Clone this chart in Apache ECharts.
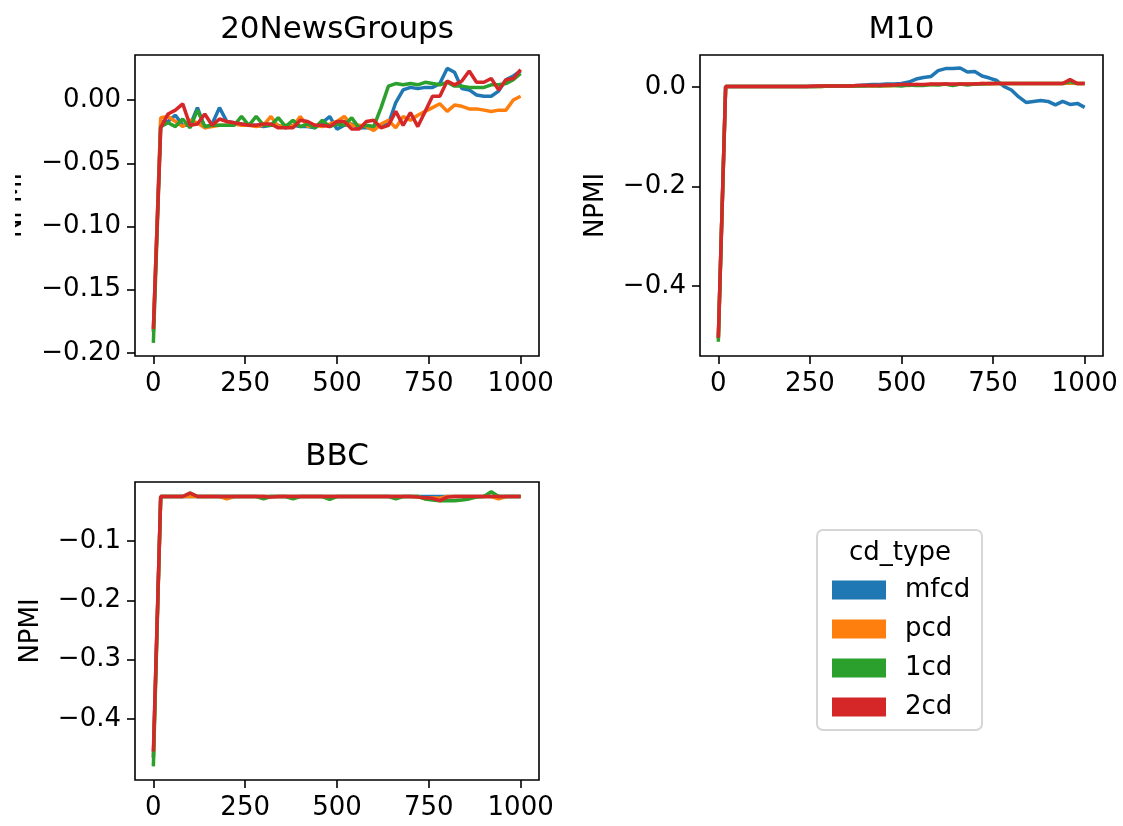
<!DOCTYPE html>
<html>
<head>
<meta charset="utf-8">
<title>NPMI by cd_type</title>
<script src="https://cdn.jsdelivr.net/npm/echarts@6/dist/echarts.min.js"></script>
<style>
  html, body { margin: 0; padding: 0; background: #fff; }
  #frame { position: absolute; left: 15px; top: 0; width: 1108px; height: 826px; overflow: hidden; background: #fff; }
  #chart { position: absolute; left: -15px; top: 0; width: 1123px; height: 826px; }
</style>
</head>
<body>
<div id="frame"><div id="chart"></div></div>
<script>
// Iteration steps shared by every panel
const steps = [0, 20, 40, 60, 80, 100, 120, 140, 160, 180, 200, 220, 240, 260, 280, 300, 320, 340, 360, 380,
  400, 420, 440, 460, 480, 500, 520, 540, 560, 580, 600, 620, 640, 660, 680, 700, 720, 740, 760, 780,
  800, 820, 840, 860, 880, 900, 920, 940, 960, 980, 1000];

const cdTypes = ['mfcd', 'pcd', '1cd', '2cd'];
const cdColors = ['#1f77b4', '#ff7f0e', '#2ca02c', '#d62728'];

const xTicks = [0, 250, 500, 750, 1000];
const newsTicks = [-0.20, -0.15, -0.10, -0.05, 0.00];
const m10Ticks = [-0.4, -0.2, 0.0];
const bbcTicks = [-0.4, -0.3, -0.2, -0.1];

// 20NewsGroups
const news_mfcd = [-0.183, -0.017, -0.017, -0.012, -0.020, -0.020, -0.006, -0.022, -0.019, -0.006,
  -0.017, -0.018, -0.019, -0.020, -0.020, -0.021, -0.020, -0.020, -0.022, -0.020,
  -0.021, -0.021, -0.022, -0.018, -0.013, -0.023, -0.020, -0.019, -0.022, -0.022,
  -0.022, -0.020, -0.019, -0.002, 0.008, 0.010, 0.009, 0.010, 0.010, 0.013,
  0.025, 0.022, 0.009, 0.008, 0.004, 0.003, 0.003, 0.007, 0.016, 0.019, 0.023];
const news_pcd = [-0.183, -0.014, -0.013, -0.017, -0.021, -0.016, -0.018, -0.022, -0.021, -0.020,
  -0.020, -0.019, -0.020, -0.020, -0.021, -0.020, -0.013, -0.021, -0.020, -0.021,
  -0.013, -0.021, -0.020, -0.021, -0.019, -0.017, -0.013, -0.020, -0.020, -0.021,
  -0.024, -0.019, -0.016, -0.022, -0.013, -0.016, -0.012, -0.009, -0.006, -0.003,
  -0.009, -0.004, -0.005, -0.007, -0.007, -0.008, -0.009, -0.008, -0.008, 0.000, 0.003];
const news_1cd = [-0.192, -0.021, -0.018, -0.021, -0.015, -0.022, -0.008, -0.021, -0.020, -0.020,
  -0.020, -0.020, -0.013, -0.020, -0.013, -0.020, -0.020, -0.014, -0.021, -0.016,
  -0.021, -0.019, -0.022, -0.016, -0.021, -0.019, -0.020, -0.014, -0.022, -0.020,
  -0.021, -0.006, 0.011, 0.013, 0.012, 0.013, 0.012, 0.014, 0.013, 0.012,
  0.014, 0.011, 0.011, 0.010, 0.010, 0.010, 0.012, 0.012, 0.013, 0.016, 0.021];
const news_2cd = [-0.181, -0.022, -0.011, -0.008, -0.003, -0.020, -0.019, -0.011, -0.020, -0.015,
  -0.017, -0.018, -0.019, -0.020, -0.020, -0.019, -0.019, -0.022, -0.022, -0.022,
  -0.016, -0.017, -0.020, -0.020, -0.021, -0.017, -0.017, -0.023, -0.023, -0.017,
  -0.016, -0.022, -0.020, -0.009, -0.020, -0.010, -0.021, -0.009, 0.003, 0.003,
  0.015, 0.012, 0.015, 0.023, 0.014, 0.014, 0.017, 0.008, 0.016, 0.017, 0.024];

// M10
const m10_mfcd = [-0.505, 0.001, 0.001, 0.001, 0.001, 0.001, 0.001, 0.001, 0.001, 0.001,
  0.001, 0.001, 0.001, 0.001, 0.002, 0.002, 0.002, 0.002, 0.002, 0.003,
  0.004, 0.005, 0.005, 0.006, 0.006, 0.007, 0.010, 0.016, 0.019, 0.021,
  0.033, 0.037, 0.037, 0.038, 0.030, 0.031, 0.022, 0.018, 0.013, 0.001,
  -0.006, -0.020, -0.031, -0.029, -0.027, -0.029, -0.036, -0.029, -0.035, -0.033, -0.041];
const m10_pcd = [-0.505, 0.001, 0.001, 0.001, 0.001, 0.001, 0.001, 0.001, 0.001, 0.001,
  0.001, 0.001, 0.001, 0.001, 0.001, 0.002, 0.002, 0.002, 0.002, 0.002,
  0.003, 0.002, 0.003, 0.002, 0.003, 0.004, 0.003, 0.005, 0.004, 0.005,
  0.005, 0.006, 0.004, 0.006, 0.006, 0.006, 0.007, 0.006, 0.007, 0.007,
  0.007, 0.007, 0.007, 0.007, 0.007, 0.007, 0.007, 0.007, 0.008, 0.007, 0.007];
const m10_1cd = [-0.512, 0.001, 0.001, 0.001, 0.001, 0.001, 0.001, 0.001, 0.001, 0.001,
  0.001, 0.001, 0.001, 0.001, 0.001, 0.002, 0.002, 0.002, 0.002, 0.002,
  0.002, 0.003, 0.002, 0.003, 0.003, 0.002, 0.004, 0.003, 0.003, 0.005,
  0.004, 0.006, 0.003, 0.006, 0.004, 0.006, 0.006, 0.007, 0.007, 0.007,
  0.007, 0.007, 0.007, 0.007, 0.007, 0.007, 0.007, 0.007, 0.011, 0.007, 0.007];
const m10_2cd = [-0.504, 0.001, 0.001, 0.001, 0.001, 0.001, 0.001, 0.001, 0.001, 0.001,
  0.001, 0.001, 0.001, 0.002, 0.002, 0.002, 0.002, 0.002, 0.002, 0.003,
  0.003, 0.003, 0.003, 0.004, 0.004, 0.005, 0.005, 0.005, 0.005, 0.006,
  0.006, 0.006, 0.006, 0.006, 0.006, 0.006, 0.007, 0.007, 0.007, 0.007,
  0.007, 0.007, 0.007, 0.007, 0.007, 0.007, 0.007, 0.007, 0.015, 0.007, 0.007];

// BBC
const bbc_mfcd = [-0.465, -0.025, -0.025, -0.025, -0.025, -0.025, -0.025, -0.025, -0.025, -0.025,
  -0.025, -0.025, -0.025, -0.025, -0.025, -0.025, -0.025, -0.025, -0.025, -0.025,
  -0.025, -0.025, -0.025, -0.025, -0.025, -0.025, -0.025, -0.025, -0.025, -0.025,
  -0.025, -0.025, -0.025, -0.025, -0.025, -0.025, -0.025, -0.025, -0.025, -0.025,
  -0.025, -0.025, -0.025, -0.025, -0.025, -0.025, -0.025, -0.025, -0.025, -0.025, -0.025];
const bbc_pcd = [-0.465, -0.025, -0.025, -0.025, -0.025, -0.025, -0.025, -0.025, -0.025, -0.025,
  -0.029, -0.025, -0.025, -0.025, -0.025, -0.025, -0.025, -0.025, -0.025, -0.025,
  -0.025, -0.025, -0.025, -0.025, -0.025, -0.025, -0.025, -0.025, -0.025, -0.025,
  -0.025, -0.025, -0.025, -0.025, -0.025, -0.025, -0.025, -0.029, -0.027, -0.028,
  -0.025, -0.025, -0.025, -0.025, -0.025, -0.025, -0.025, -0.029, -0.025, -0.025, -0.025];
const bbc_1cd = [-0.480, -0.025, -0.025, -0.025, -0.025, -0.019, -0.025, -0.025, -0.025, -0.025,
  -0.025, -0.025, -0.025, -0.025, -0.025, -0.029, -0.025, -0.025, -0.025, -0.029,
  -0.025, -0.025, -0.025, -0.025, -0.030, -0.025, -0.025, -0.025, -0.025, -0.025,
  -0.025, -0.025, -0.025, -0.029, -0.025, -0.025, -0.025, -0.029, -0.031, -0.032,
  -0.032, -0.032, -0.031, -0.029, -0.026, -0.025, -0.017, -0.025, -0.025, -0.025, -0.025];
const bbc_2cd = [-0.455, -0.025, -0.025, -0.025, -0.025, -0.019, -0.025, -0.025, -0.025, -0.025,
  -0.025, -0.025, -0.025, -0.025, -0.025, -0.025, -0.026, -0.025, -0.025, -0.025,
  -0.025, -0.025, -0.025, -0.025, -0.025, -0.025, -0.025, -0.025, -0.025, -0.025,
  -0.025, -0.025, -0.025, -0.025, -0.025, -0.025, -0.026, -0.027, -0.028, -0.032,
  -0.026, -0.025, -0.025, -0.025, -0.025, -0.025, -0.025, -0.025, -0.025, -0.025, -0.025];

const FONT = 'DejaVu Sans';
const INK = '#000';
const TICK_FONT = 26;

const panels = [
  { title: '20NewsGroups', grid: { left: 135, top: 55, width: 404, height: 301 },
    yMin: -0.2024, yMax: 0.0356, yTicks: newsTicks, digits: 2, nameGap: 108,
    lines: [news_mfcd, news_pcd, news_1cd, news_2cd] },
  { title: 'M10', grid: { left: 700, top: 55, width: 403, height: 301 },
    yMin: -0.5407, yMax: 0.0643, yTicks: m10Ticks, digits: 1, nameGap: 91,
    lines: [m10_mfcd, m10_pcd, m10_1cd, m10_2cd] },
  { title: 'BBC', grid: { left: 135, top: 482, width: 404, height: 298 },
    yMin: -0.503, yMax: -0.0005, yTicks: bbcTicks, digits: 1, nameGap: 91,
    lines: [bbc_mfcd, bbc_pcd, bbc_1cd, bbc_2cd] }
];

function fmt(v, digits) {
  const s = Math.abs(v).toFixed(digits);
  return (v < 0 && Math.abs(v) > 1e-9) ? '\u2212' + s : s;
}

const option = {
  animation: false,
  backgroundColor: '#fff',
  title: [],
  grid: [],
  xAxis: [],
  yAxis: [],
  series: [],
  legend: {
    data: cdTypes,
    orient: 'vertical',
    left: 832,
    top: 577,
    padding: 0,
    icon: 'rect',
    itemWidth: 54,
    itemHeight: 19,
    itemGap: 13,
    selectedMode: false,
    textStyle: { fontFamily: FONT, fontSize: TICK_FONT, color: INK, padding: [0, 0, 0, 14] }
  },
  graphic: [
    { type: 'rect', z: 0, shape: { x: 817, y: 530, width: 165, height: 200, r: 6 },
      style: { fill: 'rgba(255,255,255,0.8)', stroke: '#d6d6d6', lineWidth: 2 } },
    { type: 'text', z: 1, x: 900, y: 553,
      style: { text: 'cd_type', font: TICK_FONT + 'px "DejaVu Sans"', fill: INK, textAlign: 'center', textVerticalAlign: 'middle' } }
  ]
};

panels.forEach((p, k) => {
  const g = p.grid;
  option.title.push({
    text: p.title,
    left: g.left + g.width / 2,
    top: g.top - 41,
    textAlign: 'center',
    padding: 0,
    textStyle: { fontFamily: FONT, fontSize: 31, fontWeight: 'normal', color: INK }
  });
  option.grid.push(Object.assign({ show: true, borderColor: INK, borderWidth: 1.6, backgroundColor: 'transparent' }, g));
  option.xAxis.push({
    type: 'value', gridIndex: k, min: -50, max: 1050,
    axisLine: { show: false, onZero: false },
    splitLine: { show: false },
    axisTick: { show: true, inside: false, customValues: xTicks, length: 8, lineStyle: { color: INK, width: 1.6 } },
    axisLabel: { customValues: xTicks, margin: 15, fontFamily: FONT, fontSize: TICK_FONT, color: INK,
      formatter: (v) => String(v) }
  });
  option.yAxis.push({
    type: 'value', gridIndex: k, min: p.yMin, max: p.yMax,
    name: 'NPMI', nameLocation: 'middle', nameRotate: 90, nameGap: p.nameGap,
    nameTextStyle: { fontFamily: FONT, fontSize: TICK_FONT, color: INK },
    axisLine: { show: false, onZero: false },
    splitLine: { show: false },
    axisTick: { show: true, inside: false, customValues: p.yTicks, length: 8, lineStyle: { color: INK, width: 1.6 } },
    axisLabel: { customValues: p.yTicks, margin: 14, fontFamily: FONT, fontSize: TICK_FONT, color: INK,
      formatter: (v) => fmt(v, p.digits) }
  });
  p.lines.forEach((vals, j) => {
    option.series.push({
      type: 'line', name: cdTypes[j], xAxisIndex: k, yAxisIndex: k,
      data: steps.map((x, i) => [x, vals[i]]),
      symbol: 'none', showSymbol: false,
      color: cdColors[j],
      itemStyle: { color: cdColors[j] },
      lineStyle: { color: cdColors[j], width: 3.5 },
      z: 2 + j
    });
  });
});

const chart = echarts.init(document.getElementById('chart'), null, { renderer: 'canvas' });
chart.setOption(option);
</script>
</body>
</html>
